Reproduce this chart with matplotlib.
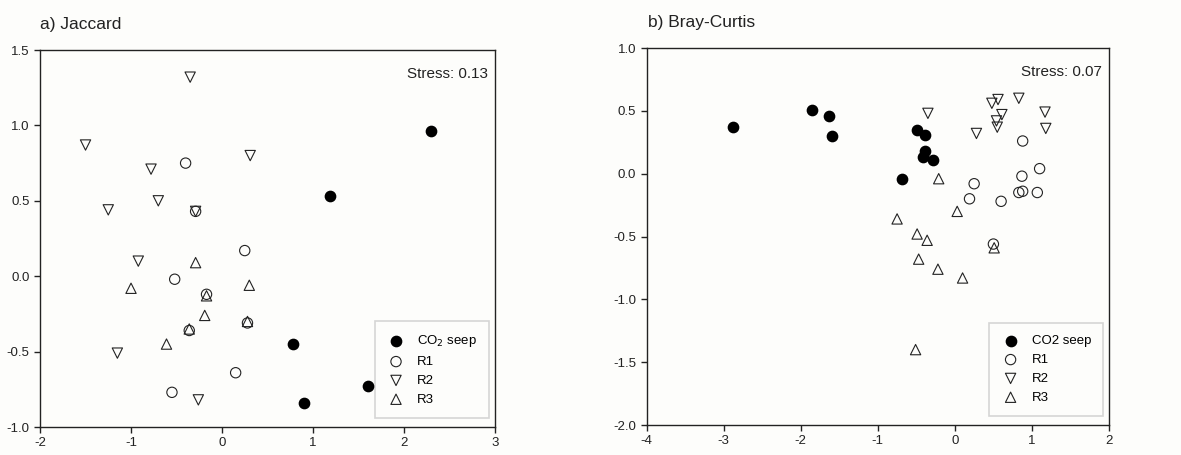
import matplotlib
matplotlib.use('Agg')
import matplotlib.pyplot as plt

plt.rcParams['font.family'] = ['Liberation Sans', 'DejaVu Sans']

# a) Jaccard
jac_seep_x = [2.30, 1.19, 0.78, 1.61, 0.90]
jac_seep_y = [0.96, 0.53, -0.45, -0.73, -0.84]
jac_r1_x = [-0.40, -0.29, 0.25, -0.52, -0.17, 0.28, -0.36, 0.15, -0.55]
jac_r1_y = [0.75, 0.43, 0.17, -0.02, -0.12, -0.31, -0.36, -0.64, -0.77]
jac_r2_x = [-0.35, -1.50, 0.31, -0.78, -0.70, -1.25, -0.29, -0.92, -1.15, -0.26]
jac_r2_y = [1.32, 0.87, 0.80, 0.71, 0.50, 0.44, 0.43, 0.10, -0.51, -0.82]
jac_r3_x = [-0.29, -1.00, 0.30, -0.17, -0.19, 0.28, -0.36, -0.61]
jac_r3_y = [0.09, -0.08, -0.06, -0.13, -0.26, -0.30, -0.35, -0.45]

# b) Bray-Curtis
bc_seep_x = [-2.88, -1.86, -1.63, -1.59, -0.49, -0.39, -0.39, -0.42, -0.29, -0.68]
bc_seep_y = [0.37, 0.51, 0.46, 0.30, 0.35, 0.31, 0.18, 0.13, 0.11, -0.04]
bc_r1_x = [0.88, 1.10, 0.87, 0.25, 0.19, 0.60, 0.83, 0.88, 1.07, 0.50]
bc_r1_y = [0.26, 0.04, -0.02, -0.08, -0.20, -0.22, -0.15, -0.14, -0.15, -0.56]
bc_r2_x = [-0.35, 0.28, 0.48, 0.56, 0.54, 0.61, 0.55, 0.83, 1.17, 1.18]
bc_r2_y = [0.48, 0.32, 0.56, 0.59, 0.42, 0.47, 0.37, 0.60, 0.49, 0.36]
bc_r3_x = [-0.21, 0.03, -0.75, -0.49, -0.36, -0.47, -0.22, 0.10, 0.51, -0.51]
bc_r3_y = [-0.04, -0.30, -0.36, -0.48, -0.53, -0.68, -0.76, -0.83, -0.59, -1.40]

bg = '#fdfdfb'
fig = plt.figure(figsize=(11.81, 4.55), dpi=100, facecolor=bg)
ax1 = fig.add_axes([0.0339, 0.0615, 0.3852, 0.8286], facecolor=bg)
ax2 = fig.add_axes([0.5476, 0.0659, 0.3914, 0.8286], facecolor=bg)


def draw(ax, seep, r1, r2, r3, seep_label):
    ms = 55
    ax.scatter(*seep, s=ms, marker='o', color='black', label=seep_label, zorder=3)
    ax.scatter(*r1, s=ms, marker='o', facecolor='none', edgecolor='#222222', linewidth=0.8, label='R1', zorder=3)
    ax.scatter(*r2, s=ms, marker='v', facecolor='none', edgecolor='#222222', linewidth=0.8, label='R2', zorder=3)
    ax.scatter(*r3, s=ms, marker='^', facecolor='none', edgecolor='#222222', linewidth=0.8, label='R3', zorder=3)
    ax.tick_params(direction='out', length=4, width=1, labelsize=9.5, colors='#222222')
    ax.tick_params(top=False, right=False)
    for sp in ax.spines.values():
        sp.set_linewidth(1)
        sp.set_color('#222222')
    leg = ax.legend(loc='lower right', bbox_to_anchor=(0.987, 0.025), frameon=True, fancybox=False,
                    edgecolor='#cccccc', fontsize=9.5, handletextpad=0.9, borderpad=0.9,
                    labelspacing=0.5, borderaxespad=0, handlelength=1.4)
    leg.get_frame().set_linewidth(1.2)
    leg.get_frame().set_facecolor(bg)
    leg.set_zorder(2)


draw(ax1, (jac_seep_x, jac_seep_y), (jac_r1_x, jac_r1_y), (jac_r2_x, jac_r2_y),
     (jac_r3_x, jac_r3_y), 'CO$_2$ seep')
ax1.set_xlim(-2, 3)
ax1.set_ylim(-1.0, 1.5)
ax1.set_xticks([-2, -1, 0, 1, 2, 3])
ax1.set_yticks([-1.0, -0.5, 0.0, 0.5, 1.0, 1.5])
ax1.set_yticklabels(['-1.0', '-0.5', '0.0', '0.5', '1.0', '1.5'])
ax1.set_xticklabels(['-2', '-1', '0', '1', '2', '3'])
ax1.text(0.985, 0.955, 'Stress: 0.13', transform=ax1.transAxes, ha='right', va='top',
         fontsize=11, color='#222222')
fig.text(40 / 1181, 1 - 24 / 455, 'a) Jaccard', ha='left', va='center', fontsize=12.5, color='#222222')

draw(ax2, (bc_seep_x, bc_seep_y), (bc_r1_x, bc_r1_y), (bc_r2_x, bc_r2_y),
     (bc_r3_x, bc_r3_y), 'CO2 seep')
ax2.set_xlim(-4, 2)
ax2.set_ylim(-2.0, 1.0)
ax2.set_xticks([-4, -3, -2, -1, 0, 1, 2])
ax2.set_xticklabels(['-4', '-3', '-2', '-1', '0', '1', '2'])
ax2.set_yticks([-2.0, -1.5, -1.0, -0.5, 0.0, 0.5, 1.0])
ax2.set_yticklabels(['-2.0', '-1.5', '-1.0', '-0.5', '0.0', '0.5', '1.0'])
ax2.text(0.985, 0.955, 'Stress: 0.07', transform=ax2.transAxes, ha='right', va='top',
         fontsize=11, color='#222222')
fig.text(648 / 1181, 1 - 22 / 455, 'b) Bray-Curtis', ha='left', va='center', fontsize=12.5, color='#222222')

fig.savefig('out.png', dpi=100, facecolor=bg)
